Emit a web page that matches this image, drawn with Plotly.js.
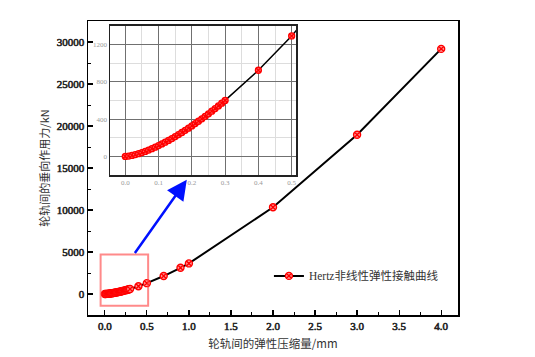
<!DOCTYPE html>
<html>
<head>
<meta charset="utf-8">
<script src="https://cdn.plot.ly/plotly-3.0.1.min.js"></script>
<style>
html,body{margin:0;padding:0;background:#fff;}
#chart{width:535px;height:357px;}
.subplot.xy .xaxislayer-above text, .subplot.xy .yaxislayer-above text{stroke:#222;stroke-width:0.6px;}
</style>
</head>
<body>
<div id="chart"></div>
<script>
// Compression (mm) and vertical force (kN)
const compression = [0, 0.01, 0.02, 0.03, 0.04, 0.05, 0.06, 0.07, 0.08, 0.09,
  0.10, 0.11, 0.12, 0.13, 0.14, 0.15, 0.16, 0.17, 0.18, 0.19,
  0.20, 0.21, 0.22, 0.23, 0.24, 0.25, 0.26, 0.27, 0.28, 0.29,
  0.30, 0.4, 0.5, 0.7, 0.9, 1.0, 2.0, 3.0, 4.0];
const force = [0, 3.7, 10.3, 19.0, 29.2, 40.8, 53.6, 67.6, 82.6, 98.6,
  115.4, 133.2, 151.7, 171.1, 191.2, 212.0, 233.6, 255.8, 278.7, 302.3,
  326.5, 351.3, 376.6, 402.6, 429.2, 456.3, 483.9, 512.1, 540.8, 570.0,
  599.8, 923, 1290, 2138, 3120, 3640, 10330, 18960, 29180];
const seriesName = 'Hertz非线性弹性接触曲线';
const xTitle = '轮轨间的弹性压缩量/mm';
const yTitle = '轮轨间的垂向作用力/kN';
const mainXTicks = [0, 0.5, 1, 1.5, 2, 2.5, 3, 3.5, 4];
const mainXLabels = ['0.0', '0.5', '1.0', '1.5', '2.0', '2.5', '3.0', '3.5', '4.0'];
const mainYTicks = [0, 5000, 10000, 15000, 20000, 25000, 30000];
const mainYLabels = ['0', '5000', '10000', '15000', '20000', '25000', '30000'];
const insetXTicks = [0, 0.1, 0.2, 0.3, 0.4, 0.5];
const insetXLabels = ['0.0', '0.1', '0.2', '0.3', '0.4', '0.5'];
const insetYTicks = [0, 400, 800, 1200];
const insetYLabels = ['0', '400', '800', '1200'];

const traces = [
  {x: compression, y: force, xaxis: 'x', yaxis: 'y', mode: 'lines+markers', name: seriesName,
   line: {color: '#000', width: 2},
   marker: {symbol: 'circle-x', size: 7, color: '#ff9a9a', line: {color: '#ff0000', width: 1.4}}, showlegend: true},
  {x: compression, y: force, xaxis: 'x2', yaxis: 'y2', mode: 'lines+markers', name: seriesName,
   line: {color: '#000', width: 1.5},
   marker: {symbol: 'circle-x', size: 6, color: '#ff6060', line: {color: '#ff0000', width: 1.3}}, showlegend: false}
];

const serif = 'Liberation Serif';
const tickFont = {family: serif, size: 11, color: '#222'};
const insetFont = {family: serif, size: 7, color: '#999'};

const layout = {
  width: 535, height: 357,
  margin: {l: 88, r: 77, t: 21, b: 42},
  paper_bgcolor: '#fff', plot_bgcolor: 'rgba(0,0,0,0)',
  showlegend: true,
  legend: {x: 0.489, y: 0.133, xanchor: 'left', yanchor: 'middle', bgcolor: 'rgba(0,0,0,0)',
    font: {family: 'Liberation Serif, Noto Sans CJK SC, serif', size: 11.5, color: '#333'}},
  xaxis: {domain: [0, 1], range: [-0.2, 4.2], tickvals: mainXTicks, ticktext: mainXLabels,
    ticks: 'inside', ticklen: 5, tickwidth: 1.2, tickcolor: '#000',
    minor: {dtick: 0.25, ticks: 'inside', ticklen: 3, tickcolor: '#000', tickwidth: 1},
    showline: true, linecolor: '#000', linewidth: 1.5, mirror: true, showgrid: false, zeroline: false,
    tickfont: tickFont,
    title: {text: xTitle, font: {family: 'Noto Sans CJK SC', size: 11.5, color: '#333'}, standoff: 9}},
  yaxis: {domain: [0, 1], range: [-2500, 32500], tickvals: mainYTicks, ticktext: mainYLabels,
    ticks: 'inside', ticklen: 5, tickwidth: 1.2, tickcolor: '#000',
    minor: {dtick: 2500, ticks: 'inside', ticklen: 3, tickcolor: '#000', tickwidth: 1},
    showline: true, linecolor: '#000', linewidth: 1.5, mirror: true, showgrid: false, zeroline: false,
    tickfont: tickFont,
    title: {text: yTitle, font: {family: 'Noto Sans CJK SC', size: 11, color: '#333'}, standoff: 5}},
  xaxis2: {domain: [0.0595, 0.563], anchor: 'y2', range: [-0.046, 0.514],
    tickvals: insetXTicks, ticktext: insetXLabels, tickfont: insetFont, ticks: '',
    showgrid: true, gridcolor: '#707070', gridwidth: 1,
    minor: {dtick: 0.05, showgrid: true, gridcolor: '#dddddd', gridwidth: 1},
    showline: true, linecolor: '#222', linewidth: 1.5, mirror: true, zeroline: false},
  yaxis2: {domain: [0.476, 0.984], anchor: 'x2', range: [-200, 1400],
    tickvals: insetYTicks, ticktext: insetYLabels, tickfont: insetFont, ticks: '',
    showgrid: true, gridcolor: '#707070', gridwidth: 1,
    minor: {dtick: 200, showgrid: true, gridcolor: '#dddddd', gridwidth: 1},
    showline: true, linecolor: '#222', linewidth: 1.5, mirror: true, zeroline: false},
  shapes: [
    {type: 'rect', xref: 'x2 domain', yref: 'y2 domain', x0: 0, x1: 1, y0: 0, y1: 1,
     fillcolor: '#fff', line: {width: 0}, layer: 'below'},
    {type: 'rect', xref: 'x', yref: 'y', x0: -0.05, x1: 0.515, y0: -1400, y1: 4700,
     line: {color: 'rgba(255,60,60,0.6)', width: 2}, fillcolor: 'rgba(0,0,0,0)'}
  ],
  annotations: [
    {xref: 'x', yref: 'y', axref: 'x', ayref: 'y', x: 0.975, y: 13600, ax: 0.345, ay: 4700,
     text: '', showarrow: true, arrowhead: 2, arrowsize: 1.6, arrowwidth: 2.5, arrowcolor: '#0010ff'}
  ]
};

Plotly.newPlot('chart', traces, layout, {displayModeBar: false, staticPlot: true});
</script>
</body>
</html>
